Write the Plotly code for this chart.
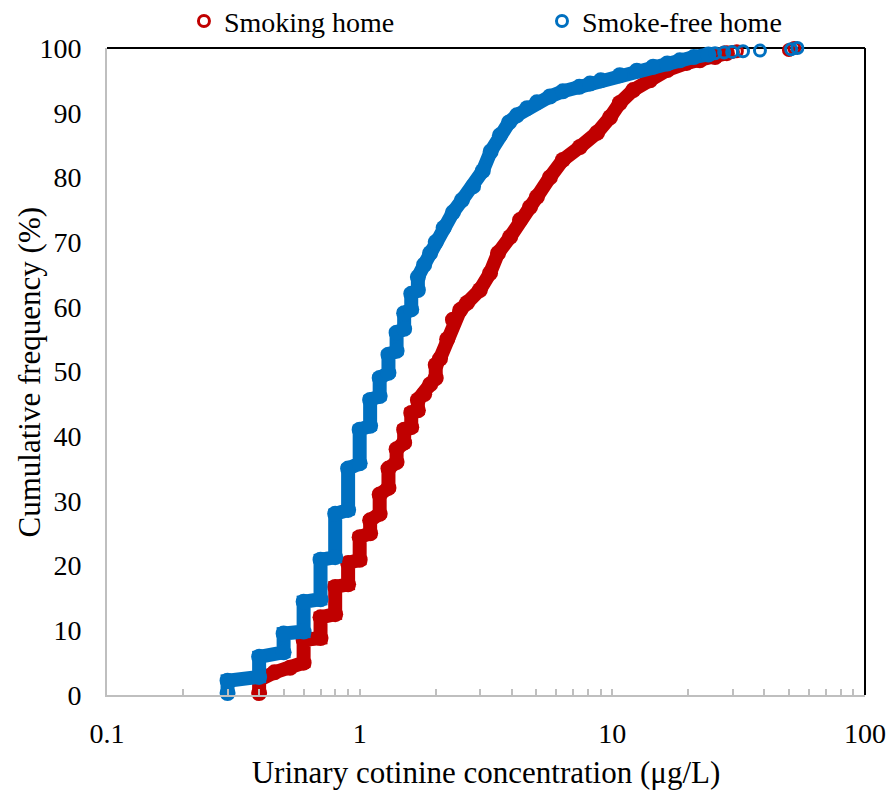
import plotly.graph_objects as go

# Cumulative frequency curves
# cotinine (ug/L) vs cumulative frequency (%)
smoking_x = [0.4, 0.4, 0.46, 0.53, 0.6, 0.6, 0.7, 0.7, 0.8, 0.8, 0.9, 0.9, 1.0, 1.0,
             1.1, 1.1, 1.2, 1.2, 1.3, 1.3, 1.4, 1.4, 1.5, 1.5, 1.6, 1.6, 1.7, 1.7,
             1.8, 1.9, 2.0, 2.0, 2.08, 2.22, 2.34, 2.5, 2.66, 2.99, 3.28, 3.53, 3.94,
             4.31, 4.72, 5.03, 5.66, 6.37, 7.44, 8.7, 9.8, 10.7, 12.1, 14.1, 16.5,
             19.7, 22.2, 25.5, 28.4]
smoking_y = [0.3, 2.3, 3.5, 4.2, 5.0, 8.5, 8.8, 12.0, 12.5, 16.7, 17.1, 20.4, 20.9, 24.4,
             25.0, 27.0, 28.0, 31.0, 32.0, 35.0, 36.0, 38.0, 39.0, 41.0, 41.4, 43.6, 44.0, 45.6,
             46.5, 48.0, 49.0, 51.0, 52.0, 55.0, 58.0, 59.5, 60.6, 62.6, 65.2, 68.3, 70.8,
             73.4, 75.4, 77.0, 80.0, 82.7, 84.7, 86.9, 89.3, 91.5, 93.5, 95.0, 96.6,
             97.7, 98.1, 98.6, 99.2]
smoking_tail_x = [27.7, 30.0, 31.1, 50.0, 52.5]
smoking_tail_y = [99.3, 99.4, 99.5, 99.7, 100.0]

smokefree_x = [0.3, 0.3, 0.4, 0.4, 0.5, 0.5, 0.6, 0.6, 0.7, 0.7, 0.8, 0.8, 0.9, 0.9, 1.0, 1.0,
               1.1, 1.1, 1.2, 1.2, 1.3, 1.3, 1.4, 1.4, 1.5, 1.5, 1.6, 1.6, 1.7, 1.7,
               1.8, 1.9, 2.0, 2.15, 2.34, 2.54, 2.81, 3.07, 3.3, 3.59, 3.9, 4.19, 4.6,
               5.03, 5.66, 6.37, 7.4, 8.16, 9.0, 10.7, 12.5, 14.5, 16.5, 18.5, 21.0, 24.0]
smokefree_y = [0.3, 2.2, 2.8, 5.9, 6.6, 9.5, 9.8, 14.4, 14.8, 20.9, 21.3, 28.0, 28.6, 35.0, 35.8, 41.0,
               41.6, 45.6, 46.2, 49.0, 49.8, 52.6, 53.2, 56.0, 56.6, 59.0, 59.6, 62.0, 62.6, 64.6,
               66.5, 68.3, 70.0, 72.2, 74.6, 76.5, 78.6, 81.0, 84.0, 86.5, 88.5, 89.6, 90.7,
               91.6, 92.5, 93.3, 94.0, 94.5, 95.0, 95.8, 96.5, 97.1, 97.6, 98.1, 98.6, 99.0]
smokefree_tail_x = [25.5, 27.7, 29.8, 32.9, 38.4, 51.0, 54.0]
smokefree_tail_y = [99.2, 99.3, 99.4, 99.5, 99.6, 99.8, 100.0]

x_tickvals = [0.1, 1, 10, 100]
x_ticktext = ['0.1', '1', '10', '100']

RED = '#C00000'
BLUE = '#0070C0'
FONT = 'Times New Roman, Liberation Serif, DejaVu Serif, serif'

fig = go.Figure()

series = [
    ('Smoking home', smoking_x, smoking_y, smoking_tail_x, smoking_tail_y, RED, 'legend'),
    ('Smoke-free home', smokefree_x, smokefree_y, smokefree_tail_x, smokefree_tail_y, BLUE, 'legend2'),
]
for name, bx, by, tx, ty, color, leg in series:
    # dense part: markers overlap into a thick band
    fig.add_trace(go.Scatter(
        x=bx, y=by, mode='lines+markers', showlegend=False, cliponaxis=False,
        line=dict(color=color, width=14),
        marker=dict(symbol='circle', size=16, color=color),
    ))
    # sparse upper tail: separate open circles
    fig.add_trace(go.Scatter(
        x=tx, y=ty, mode='markers', name=name, legend=leg, cliponaxis=False,
        marker=dict(symbol='circle-open', size=11, color=color, line=dict(width=3)),
    ))

# the page body adds an 8px offset, so the figure is 8px smaller than the window
fig.update_layout(
    width=886, height=790,
    margin=dict(l=99, r=29, t=40, b=103, autoexpand=False),
    plot_bgcolor='white', paper_bgcolor='white',
    font=dict(family=FONT, color='black', size=28),
    legend=dict(orientation='h', x=0.1986, xref='container', y=1.08, yref='paper',
                xanchor='left', yanchor='top', font=dict(size=28), bgcolor='rgba(0,0,0,0)'),
    legend2=dict(orientation='h', x=0.6027, xref='container', y=1.08, yref='paper',
                 xanchor='left', yanchor='top', font=dict(size=28), bgcolor='rgba(0,0,0,0)'),
    shapes=[
        dict(type='line', xref='paper', yref='paper', x0=0, x1=1, y0=1, y1=1,
             line=dict(color='black', width=2), layer='below'),
        dict(type='line', xref='paper', yref='paper', x0=1, x1=1, y0=0, y1=1,
             line=dict(color='black', width=2), layer='below'),
    ],
    annotations=[
        dict(text='Cumulative frequency (%)', textangle=-90, showarrow=False,
             xref='paper', yref='paper', x=-0.1016, y=0.5,
             xanchor='center', yanchor='middle', font=dict(size=31)),
    ],
)

fig.update_xaxes(
    type='log', range=[-1, 2],
    tickvals=x_tickvals, ticktext=x_ticktext,
    ticks='inside', ticklen=6, tickcolor='#BFBFBF', tickwidth=1.5,
    minor=dict(ticks='inside', ticklen=6, tickcolor='#BFBFBF', tickwidth=1.5, dtick='D1'),
    showline=True, linecolor='#BFBFBF', linewidth=2,
    showgrid=False, zeroline=False,
    ticklabelstandoff=12,
    title=dict(text='Urinary cotinine concentration (μg/L)', font=dict(size=31), standoff=14),
)
fig.update_yaxes(
    range=[0, 100], dtick=10,
    showline=True, linecolor='#BFBFBF', linewidth=2,
    showgrid=False, zeroline=False, ticks='',
    ticklabelstandoff=18,
)

fig.write_html('out.html')
